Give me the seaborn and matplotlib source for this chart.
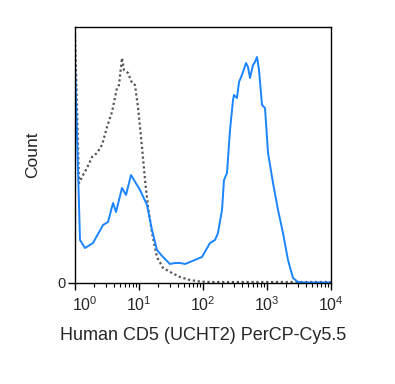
import numpy as np
import pandas as pd
import matplotlib
matplotlib.use("Agg")
import matplotlib.pyplot as plt
import matplotlib.ticker as mticker
from matplotlib.transforms import ScaledTranslation
import seaborn as sns

# Stained sample (blue, solid): log10 fluorescence vs. count (arbitrary units)
blue_log = [0.0, 0.078, 0.156, 0.281, 0.438, 0.516, 0.594, 0.641, 0.734, 0.797,
            0.875, 0.922, 1.016, 1.125, 1.203, 1.281, 1.375, 1.484, 1.5625, 1.641,
            1.719, 1.797, 1.984, 2.109, 2.1875, 2.234, 2.297, 2.328, 2.375, 2.422,
            2.469, 2.484, 2.531, 2.5625, 2.609, 2.625, 2.672, 2.703, 2.734, 2.781,
            2.8125, 2.844, 2.875, 2.922, 2.969, 3.016, 3.094, 3.172, 3.25, 3.328,
            3.406, 3.484, 3.6, 4.0]
blue_cnt = [220, 43, 35, 40, 58, 61, 80, 71, 95, 88,
            108, 103, 93, 78, 53, 33, 26, 19, 20, 20,
            19, 21, 26, 40, 43, 50, 73, 103, 110, 153,
            183, 188, 185, 201, 208, 211, 220, 216, 205, 218,
            221, 226, 213, 178, 175, 130, 100, 73, 50, 23,
            5, 1, 0.5, 0.5]

# Isotype control (gray, dotted)
ctrl_log = [0.0, 0.0625, 0.109, 0.1875, 0.266, 0.344, 0.422, 0.5, 0.578, 0.656,
            0.6875, 0.734, 0.766, 0.828, 0.891, 0.9375, 0.984, 1.047, 1.094, 1.141,
            1.203, 1.281, 1.375, 1.516, 1.641, 1.797, 1.95, 2.11, 4.0]
ctrl_cnt = [248, 100, 106, 115, 126, 130, 138, 156, 171, 195,
            198, 225, 213, 210, 200, 198, 176, 136, 103, 76,
            50, 26, 15, 10, 6, 3, 1.5, 1, 1]

x_ticks = [1, 10, 100, 1000, 10000]
x_tick_labels = [r"$10^{0}$", r"$10^{1}$", r"$10^{2}$", r"$10^{3}$", r"$10^{4}$"]

sns.set_style("ticks")
plt.rcParams["font.family"] = ["Liberation Sans", "DejaVu Sans"]
plt.rcParams["mathtext.fontset"] = "custom"
plt.rcParams["mathtext.rm"] = "Liberation Sans"
plt.rcParams["mathtext.it"] = "Liberation Sans"

df_blue = pd.DataFrame({"x": 10 ** np.array(blue_log), "y": blue_cnt})
df_ctrl = pd.DataFrame({"x": 10 ** np.array(ctrl_log), "y": ctrl_cnt})

fig = plt.figure(figsize=(3.95, 3.84), dpi=100)
ax = fig.add_axes([75 / 395, 1 - 283 / 384, 256 / 395, 256 / 384])

sns.lineplot(data=df_ctrl, x="x", y="y", ax=ax, color="#555555",
             linestyle=(0, (1, 1.2)), linewidth=1.6, estimator=None, sort=False)
sns.lineplot(data=df_blue, x="x", y="y", ax=ax, color="#1a85ff",
             linewidth=1.4, estimator=None, sort=False)

ax.set_xscale("log")
ax.set_xlim(1, 10000)
ax.set_ylim(0, 256)
ax.set_xticks(x_ticks)
ax.set_xticklabels(x_tick_labels, fontsize=11.5)
ax.xaxis.set_minor_locator(mticker.LogLocator(base=10, subs=np.arange(2, 10)))
ax.xaxis.set_minor_formatter(mticker.NullFormatter())
ax.tick_params(axis="x", which="major", length=5, width=1, pad=4, color="black")
ax.tick_params(axis="x", which="minor", length=3, width=0.8, color="black")
lbl0 = ax.get_xticklabels()[0]
lbl0.set_transform(lbl0.get_transform() + ScaledTranslation(10 / 100, 0, fig.dpi_scale_trans))

ax.set_yticks([0])
ax.set_yticklabels(["0"], fontsize=10.5)
ax.tick_params(axis="y", length=5, width=1, pad=2, color="black")

for s in ax.spines.values():
    s.set_visible(True)
    s.set_color("black")
    s.set_linewidth(1.0)

ax.set_xlabel("Human CD5 (UCHT2) PerCP-Cy5.5", fontsize=13, labelpad=9)
ax.set_ylabel("Count", fontsize=12.5, labelpad=12)

fig.savefig("out.png", dpi=100)
